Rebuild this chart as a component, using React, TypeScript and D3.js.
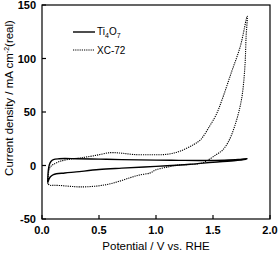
import React from 'react';
import * as d3 from 'd3';

// Ti4O7 cyclic voltammogram: anodic sweep then cathodic return
const tiV = [0.05, 0.055, 0.065, 0.08, 0.1, 0.15, 0.2, 0.3, 0.5, 0.7, 1.0, 1.2, 1.4, 1.6, 1.72, 1.8, 1.77, 1.7, 1.5, 1.3, 1.0, 0.7, 0.5, 0.3, 0.2, 0.1, 0.07, 0.05];
const tiI = [-16, -5, 1, 4, 5.5, 6.3, 6.5, 6.3, 6, 5.5, 5, 4.8, 4.7, 5, 5.6, 6.5, 5.5, 4.6, 3, 1.2, -0.8, -2.5, -3.8, -6, -7, -8.5, -11, -16];

// XC-72 cyclic voltammogram
const xcV = [0.05, 0.055, 0.065, 0.08, 0.1, 0.16, 0.25, 0.33, 0.45, 0.6, 0.7, 0.8, 0.95, 1.1, 1.21, 1.33, 1.39, 1.47, 1.53, 1.58, 1.66, 1.74, 1.8, 1.79, 1.78, 1.75, 1.69, 1.63, 1.58, 1.53, 1.44, 1.39, 1.3, 1.2, 1.1, 1.0, 0.95, 0.85, 0.77, 0.67, 0.57, 0.45, 0.33, 0.25, 0.16, 0.1, 0.07, 0.05];
const xcI = [-17, -9, -3, -0.5, 1, 4, 6, 7, 9, 12, 11.5, 10.3, 10, 10.5, 13.4, 19.6, 24, 36.7, 48, 61.7, 86.6, 111.5, 139.5, 120, 92.8, 61.7, 36.7, 21.2, 14, 10.3, 4, 1.9, 1, 0.5, -1.5, -4, -6.9, -9, -11.5, -15, -17.8, -19.5, -20, -19.5, -18.7, -18.5, -18.5, -17];

const xTicks = [0, 0.5, 1.0, 1.5, 2.0];
const yTicks = [-50, 0, 50, 100, 150];

const width = 280;
const height = 253;
const margin = { top: 5, right: 10, bottom: 34, left: 42 };

const font = 'Liberation Sans, Arial, sans-serif';

const App: React.FC = () => {
  const x = d3.scaleLinear().domain([0, 2]).range([margin.left, width - margin.right]);
  const y = d3.scaleLinear().domain([-50, 150]).range([height - margin.bottom, margin.top]);

  const line = d3
    .line<[number, number]>()
    .x((d) => x(d[0]))
    .y((d) => y(d[1]))
    .curve(d3.curveCatmullRom.alpha(0.5));

  const tiPath = line(tiV.map((v, i) => [v, tiI[i]]));
  const xcPath = line(xcV.map((v, i) => [v, xcI[i]]));

  const x0 = x(0);
  const x1 = x(2);
  const y0 = y(-50);
  const y1 = y(150);

  return (
    <svg
      width={width}
      height={height}
      style={{ position: 'absolute', left: 0, top: 0, background: '#fff' }}
      fontFamily={font}
    >
      <path d={xcPath || ''} fill="none" stroke="#000" strokeWidth={1.1} strokeDasharray="1.2,1" />
      <path d={tiPath || ''} fill="none" stroke="#000" strokeWidth={1.4} />

      <rect x={x0} y={y1} width={x1 - x0} height={y0 - y1} fill="none" stroke="#000" strokeWidth={1.2} />

      {xTicks.map((t) => (
        <g key={'x' + t}>
          <line x1={x(t)} x2={x(t)} y1={y0} y2={y0 - 4} stroke="#000" strokeWidth={1.2} />
          <text x={x(t)} y={y0 + 15} textAnchor="middle" fontSize={11} fontWeight="bold">
            {t.toFixed(1)}
          </text>
        </g>
      ))}
      {yTicks.map((t) => (
        <g key={'y' + t}>
          <line x1={x0} x2={x0 + 4} y1={y(t)} y2={y(t)} stroke="#000" strokeWidth={1.2} />
          <text x={x0 - 6} y={y(t) + 4} textAnchor="end" fontSize={11} fontWeight="bold">
            {t}
          </text>
        </g>
      ))}

      <text x={(x0 + x1) / 2} y={250} textAnchor="middle" fontSize={11.5}>
        Potential / V vs. RHE
      </text>
      <text transform={`translate(13, ${(y0 + y1) / 2 - 14}) rotate(-90)`} textAnchor="middle" fontSize={11.5}>
        Current density / mA cm
        <tspan fontSize={7} dy={-4}>-2</tspan>
        <tspan dy={4}>(real)</tspan>
      </text>

      {/* legend */}
      <line x1={73} x2={95} y1={32} y2={32} stroke="#000" strokeWidth={1.4} />
      <text x={97} y={35} fontSize={10}>
        Ti<tspan fontSize={7} dy={3}>4</tspan>
        <tspan dy={-3}>O</tspan>
        <tspan fontSize={7} dy={3}>7</tspan>
      </text>
      <line x1={73} x2={95} y1={50} y2={50} stroke="#000" strokeWidth={1.1} strokeDasharray="1.2,1" />
      <text x={97} y={54} fontSize={10}>
        XC-72
      </text>
    </svg>
  );
};

export default App;
